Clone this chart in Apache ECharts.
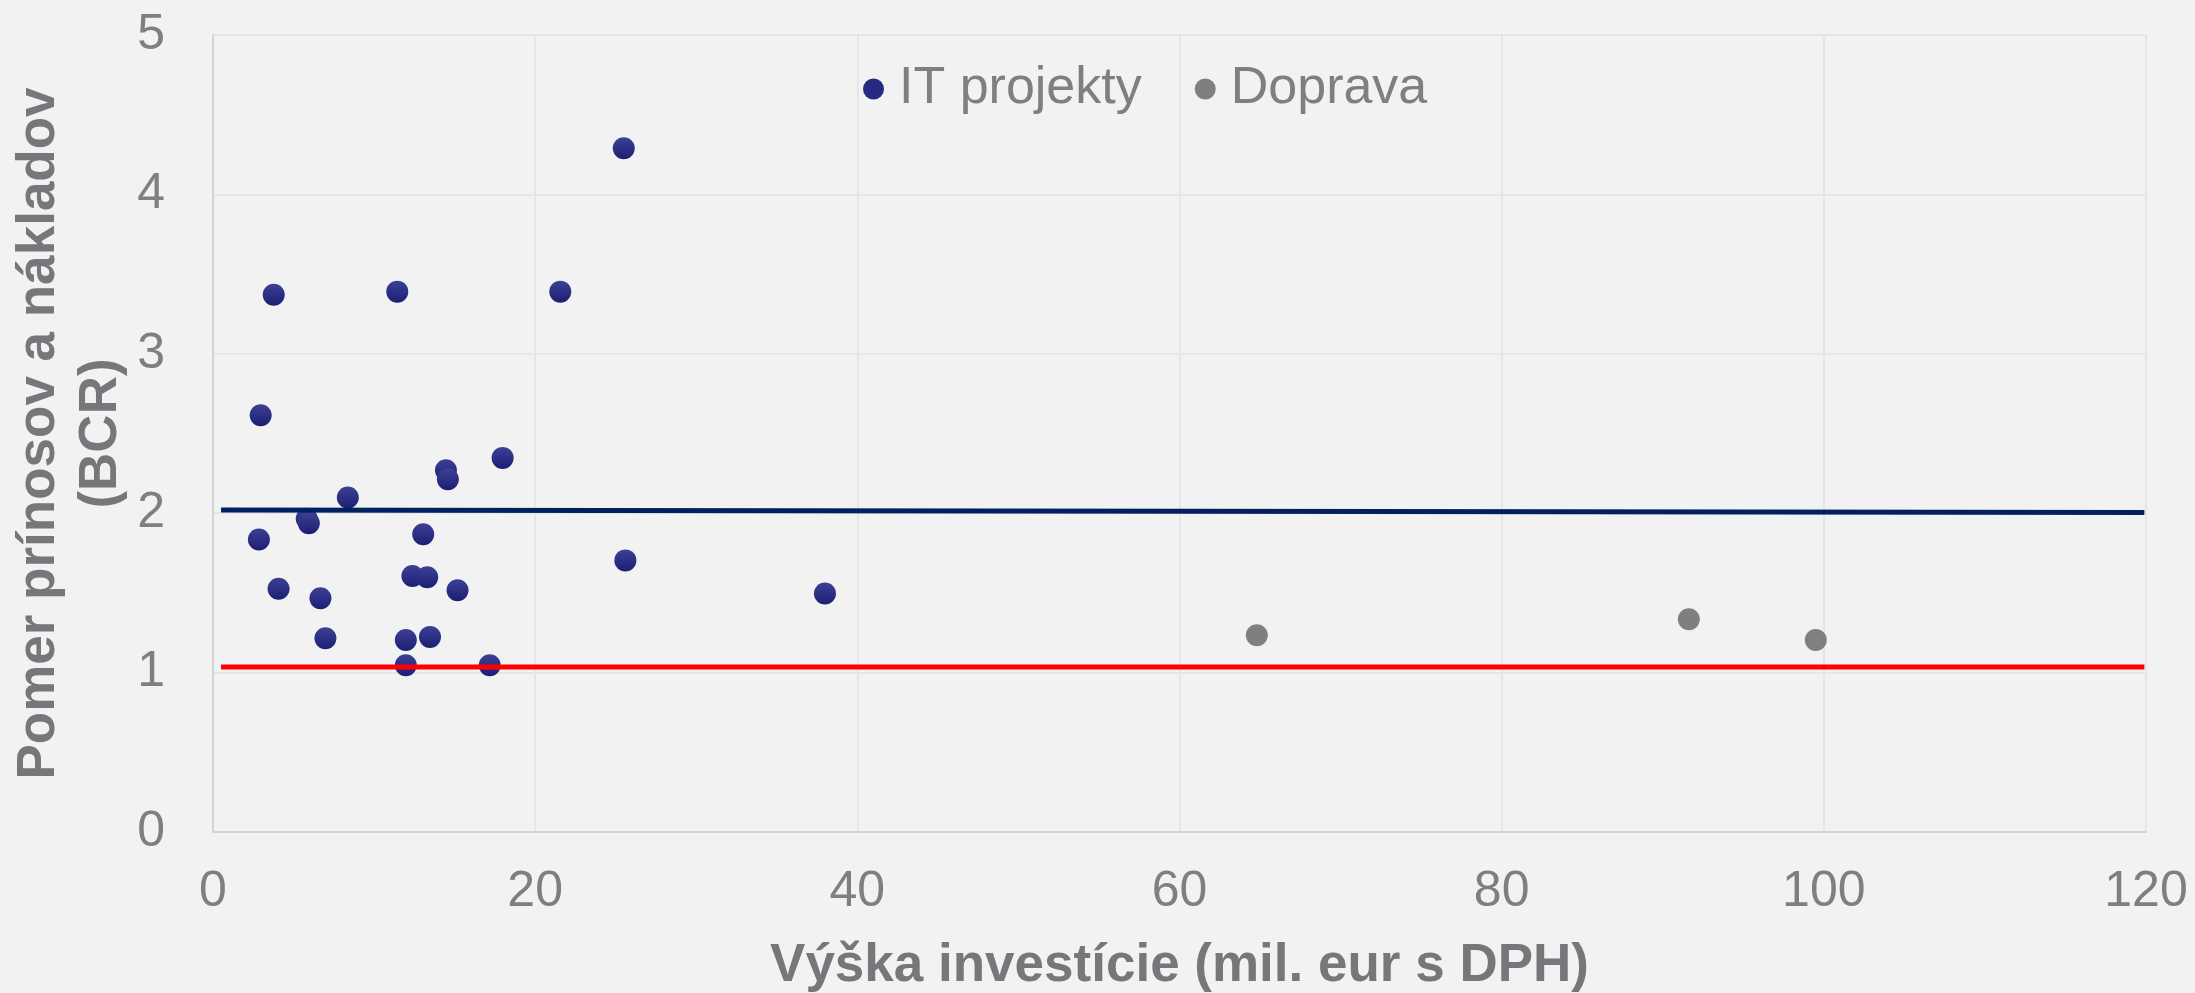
<!DOCTYPE html>
<html>
<head>
<meta charset="utf-8">
<script src="https://cdn.jsdelivr.net/npm/echarts@6/dist/echarts.min.js"></script>
<style>
  html, body { margin: 0; padding: 0; background: #f2f2f2; }
  #main-echart { width: 2195px; height: 993px; }
</style>
</head>
<body>
<div id="main-echart"></div>
<script>
// IT projekty - investicia (mil. eur) a BCR
const it_x = [25.5, 3.77, 11.44, 21.56, 2.96, 17.98, 14.46, 14.58, 8.37, 5.82, 5.95, 2.85, 13.05,
	25.6, 12.38, 13.3, 4.07, 15.18, 6.67, 37.99, 6.98, 11.97, 13.47, 11.97, 17.18];
const it_y = [4.29, 3.37, 3.39, 3.39, 2.615, 2.347, 2.27, 2.213, 2.098, 1.965, 1.937, 1.835, 1.868,
	1.704, 1.606, 1.598, 1.526, 1.517, 1.467, 1.496, 1.215, 1.205, 1.224, 1.046, 1.046];

// Doprava
const dop_x = [64.8, 91.62, 99.5];
const dop_y = [1.234, 1.335, 1.205];

// horizontal lines (trend / threshold)
const line_x = [0.5, 119.9];
const trend_y = [2.02, 2.005];
const limit_y = [1.035, 1.035];

const x_ticks = [0, 20, 40, 60, 80, 100, 120];
const y_ticks = [0, 1, 2, 3, 4, 5];

const FONT = 'Liberation Sans, Arial, sans-serif';
const pair = (xs, ys) => xs.map((v, i) => [v, ys[i]]);

try {
	let myChart = echarts.init(document.getElementById('main-echart'));

	const blueDot = new echarts.graphic.LinearGradient(0, 0, 0, 1, [
		{ offset: 0, color: '#3d4196' },
		{ offset: 1, color: '#1b1e73' }
	]);

	let option = {
		backgroundColor: '#f2f2f2',
		animation: false,
		textStyle: { fontFamily: FONT },
		grid: { left: 213, right: 49, top: 35, bottom: 161, outerBoundsMode: 'none' },
		legend: {
			data: [
				{ name: 'IT projekty', itemStyle: { color: '#262a80' } },
				{ name: 'Doprava', itemStyle: { color: '#7f7f7f' } }
			],
			left: 858,
			top: 58,
			icon: 'circle',
			itemWidth: 21,
			itemHeight: 21,
			itemGap: 53,
			textStyle: {
				fontFamily: FONT,
				fontSize: 52,
				lineHeight: 52,
				color: '#7f7f7f',
				padding: [0, 0, 0, 10]
			}
		},
		xAxis: {
			type: 'value',
			min: x_ticks[0],
			max: x_ticks[x_ticks.length - 1],
			interval: 20,
			name: 'Výška investície (mil. eur s DPH)',
			nameLocation: 'middle',
			nameGap: 104,
			nameTextStyle: {
				fontFamily: FONT,
				fontSize: 53,
				lineHeight: 60,
				fontWeight: 'bold',
				color: '#77777b',
				verticalAlign: 'top'
			},
			axisLine: { show: true, lineStyle: { color: '#d4d4d4', width: 2 } },
			axisTick: { show: false },
			axisLabel: { fontFamily: FONT, fontSize: 50, color: '#7f7f7f', margin: 35 },
			splitLine: { show: true, lineStyle: { color: '#e6e6e6', width: 2 } }
		},
		yAxis: {
			type: 'value',
			min: y_ticks[0],
			max: y_ticks[y_ticks.length - 1],
			interval: 1,
			name: 'Pomer prínosov a nákladov\n(BCR)',
			nameLocation: 'middle',
			nameGap: 81,
			nameMoveOverlap: false,
			nameRotate: 90,
			nameTextStyle: {
				fontFamily: FONT,
				fontSize: 53,
				lineHeight: 62,
				fontWeight: 'bold',
				color: '#77777b',
				align: 'center'
			},
			axisLine: { show: true, lineStyle: { color: '#d4d4d4', width: 2 } },
			axisTick: { show: false },
			axisLabel: { fontFamily: FONT, fontSize: 50, color: '#7f7f7f', margin: 48 },
			splitLine: { show: true, lineStyle: { color: '#e6e6e6', width: 2 } }
		},
		series: [
			{
				name: 'IT projekty',
				type: 'scatter',
				symbol: 'circle',
				symbolSize: 22,
				itemStyle: { color: blueDot, opacity: 1 },
				data: pair(it_x, it_y),
				z: 2
			},
			{
				name: 'Doprava',
				type: 'scatter',
				symbol: 'circle',
				symbolSize: 22,
				itemStyle: { color: '#7f7f7f', opacity: 1 },
				data: pair(dop_x, dop_y),
				z: 2
			},
			{
				name: 'trend',
				type: 'line',
				showSymbol: false,
				symbol: 'none',
				lineStyle: { color: '#002060', width: 5 },
				data: pair(line_x, trend_y),
				z: 3
			},
			{
				name: 'BCR = 1',
				type: 'line',
				showSymbol: false,
				symbol: 'none',
				lineStyle: { color: '#ff0000', width: 5 },
				data: pair(line_x, limit_y),
				z: 3
			}
		]
	};

	myChart.setOption(option);
} catch (e) {
	console.log(e);
}
</script>
</body>
</html>
